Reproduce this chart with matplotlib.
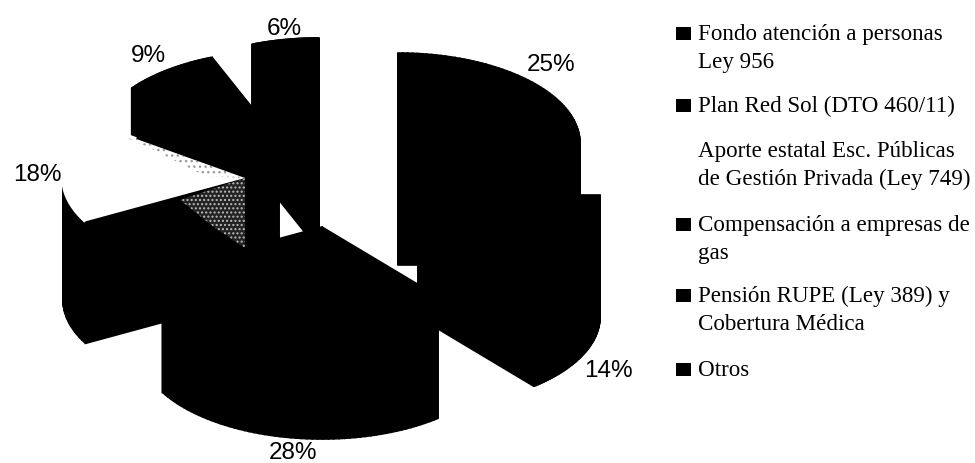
# %% IMPORTS
import numpy as np
import matplotlib
matplotlib.use('Agg')
import matplotlib.pyplot as plt

# %% data
shares = [25, 14, 28, 18, 9, 6]
share_labels = ['25%', '14%', '28%', '18%', '9%', '6%']
legend_items = ['Fondo atención a personas\nLey 956',
                'Plan Red Sol (DTO 460/11)',
                'Aporte estatal Esc. Públicas\nde Gestión Privada (Ley 749)',
                'Compensación a empresas de\ngas',
                'Pensión RUPE (Ley 389) y\nCobertura Médica',
                'Otros']

# %% layout, in pixels of the scan
apex = [(398, 143), (418, 195), (322, 227), (245, 178), (279, 141), (319, 128)]
label_xy = [(551, 65), (608, 371), (293, 453), (37, 175), (148, 56), (284, 29)]
legend_y = [33, 105, 150, 224, 295, 369]
marker_on = [True, True, False, True, True, True]
rx, ry, depth = 182, 90, 122

fig = plt.figure(figsize=(9.75, 4.63), dpi=100)
ax = fig.add_axes([0, 0, 1, 1])
ax.set_xlim(0, 975)
ax.set_ylim(463, 0)
ax.axis('off')

# angles run clockwise from 12 o'clock
edges = np.radians(np.cumsum([0] + shares) * 3.6)


def wedge_points(i):
    t = np.linspace(edges[i], edges[i + 1], 60)
    x = apex[i][0] + rx * np.sin(t)
    y = apex[i][1] - ry * np.cos(t)
    return np.r_[apex[i][0], x], np.r_[apex[i][1], y]


# painter's order, back slices first
for i in [4, 5, 3, 0, 1, 2]:
    x, y = wedge_points(i)
    n = len(x)
    for k in range(n):
        j = (k + 1) % n
        ax.fill([x[k], x[j], x[j], x[k]],
                [y[k], y[j], y[j] + depth, y[k] + depth],
                facecolor='black', edgecolor='black', lw=1.2)
    ax.fill(x, y + depth, color='black', lw=0)
    top = 'white' if i == 3 else 'black'
    ax.fill(x, y, color=top, lw=0)

    if i == 3:
        # the white slice has no visible outline in the scan
        ax.plot(x[1:], y[1:], color='white', lw=2.5, solid_capstyle='butt')
        ax.plot([x[-1], x[-1] + 0.25 * (x[0] - x[-1])], [y[-1], y[-1] + 0.25 * (y[0] - y[-1])],
                color='white', lw=2.5)
        # scanner speckle on the white slice and on its cut face
        ax.fill([x[-1], x[0], 205, 150], [y[-1], y[0], 176, 148], facecolor='none',
                edgecolor='#999999', hatch='...', lw=0)
        ax.fill([x[0], x[0], 215, 180], [y[0], y[0] + 70, 228, 200], facecolor='#222222',
                edgecolor='#bbbbbb', hatch='....', lw=0)

for i in range(len(shares)):
    ax.text(label_xy[i][0], label_xy[i][1], share_labels[i], fontsize=17.5,
            family='Liberation Sans', ha='center', va='center', color='black')

# %% legend
for i in range(len(legend_items)):
    if marker_on[i]:
        ax.fill([676, 691, 691, 676],
                [legend_y[i] - 6.5, legend_y[i] - 6.5, legend_y[i] + 6.5, legend_y[i] + 6.5],
                color='black', lw=0)
    ax.text(698, legend_y[i] - 9, legend_items[i], fontsize=16.6, family='Liberation Serif',
            ha='left', va='top', linespacing=1.42, color='black')

fig.savefig('out.png', dpi=100)
# %% END
